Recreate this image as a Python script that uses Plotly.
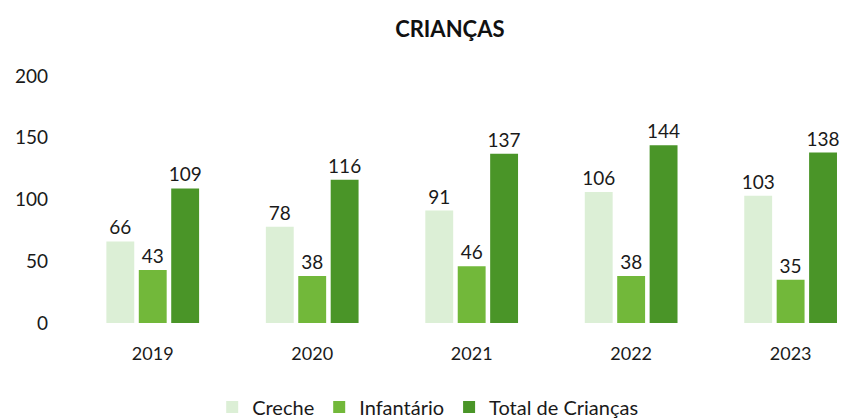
import plotly.graph_objects as go

years = ["2019", "2020", "2021", "2022", "2023"]
creche = [66, 78, 91, 106, 103]
infantario = [43, 38, 46, 38, 35]
total = [109, 116, 137, 144, 138]
y_ticks = [0, 50, 100, 150, 200]

series = [
    ("Creche", creche, "#dcefd6"),
    ("Infantário", infantario, "#72b83a"),
    ("Total de Crianças", total, "#4a9528"),
]

fig = go.Figure()
for name, vals, col in series:
    fig.add_trace(go.Bar(
        x=years, y=vals, name=name, marker_color=col, marker_line_width=0,
        text=[str(v) for v in vals], textposition="outside", constraintext="none",
        textfont=dict(size=19, color="#1a1a1a"), cliponaxis=False,
    ))

fig.update_layout(
    width=848, height=419,
    margin=dict(l=65, r=0, t=68, b=95),
    paper_bgcolor="white", plot_bgcolor="white",
    font=dict(family="Lato, Open Sans, sans-serif", color="#1a1a1a"),
    title=dict(text="<b>CRIANÇAS</b>", x=0.521, xanchor="center", y=0.95, yanchor="middle",
               font=dict(size=22, color="#111"), automargin=False),
    barmode="group", bargap=0.39, bargroupgap=0.14,
    showlegend=True,
    legend=dict(orientation="h", x=0.453, xanchor="center", y=-0.34, yanchor="middle",
                font=dict(size=20), itemwidth=30, traceorder="normal"),
)
fig.update_xaxes(range=[-0.5, 4.41], showgrid=False, showline=False, ticks="",
                 tickfont=dict(size=18), ticklabelstandoff=18, automargin=False)
fig.update_yaxes(range=[0, 200], tickvals=y_ticks, showgrid=False, zeroline=False,
                 showline=False, tickfont=dict(size=19), ticklabelstandoff=24, automargin=False)

fig.write_html("out.html")
